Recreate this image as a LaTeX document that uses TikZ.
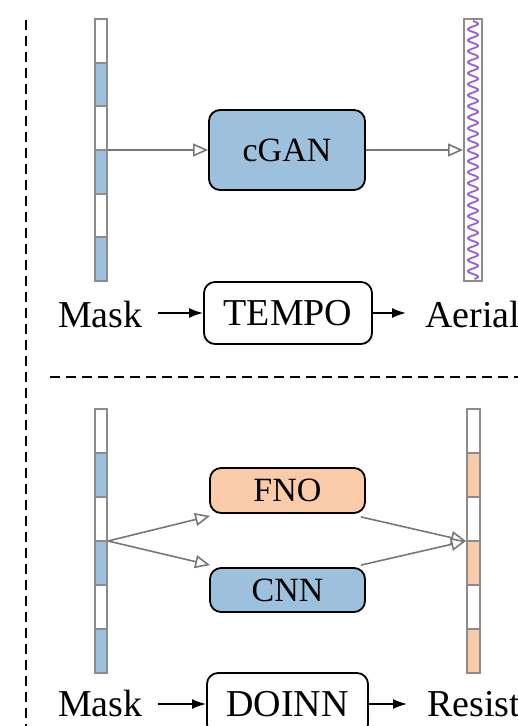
\documentclass[tikz,border=0pt]{standalone}
\usepackage{fontspec}
\setmainfont{Liberation Serif}
\newfontfamily\tnr{Liberation Serif}
\usetikzlibrary{arrows.meta}
\definecolor{mblue}{HTML}{9DC1DC}
\definecolor{morange}{HTML}{FACBA8}
\definecolor{mpurple}{HTML}{9A5FD6}
\definecolor{bargray}{HTML}{8C8C8C}
\definecolor{arrgray}{HTML}{777777}
\begin{document}
\begin{tikzpicture}[x=1pt,y=-1pt,
  barframe/.style={draw=bargray, line width=2pt, inner sep=0pt, fill=none},
  barline/.style={draw=bargray, line width=2pt},
  model/.style={draw=black, line width=1.8pt, rounded corners=11pt, inner sep=0pt, font=\tnr\fontsize{34}{36}\selectfont},
  bigmodel/.style={model, font=\tnr\fontsize{38}{40}\selectfont},
  lbl/.style={inner sep=0pt, font=\tnr\fontsize{38}{40}\selectfont},
  garrow/.style={draw=arrgray, line width=1.6pt, -{Triangle[open, fill=white, length=15pt, width=13pt]}},
  barrow/.style={draw=black, line width=1.6pt, -{Latex[length=14pt, width=10pt]}},
  sep/.style={draw=black, line width=2pt, dash pattern=on 10pt off 6pt}]
\useasboundingbox (0,0) rectangle (518,726);
\clip (0,0) rectangle (518,726);

% separators
\draw[sep] (26,20) -- (26,730);
\draw[sep] (50,377) -- (520,377);

% ---------- top: mask bar ----------
\foreach \i in {1,3,5} \fill[mblue] (95,{19+\i*43.667}) rectangle (107,{19+(\i+1)*43.667});
\foreach \i in {1,...,5} \draw[barline] (95,{19+\i*43.667}) -- (107,{19+\i*43.667});
\node[barframe, minimum width=12pt, minimum height=262pt] (barA) at (101,150) {};

% aerial bar with wave
\draw[mpurple, line width=1.8pt] plot[domain=0:258, samples=600, smooth] ({473+5*sin(\x/11*360)},{21+\x});
\node[barframe, minimum width=18pt, minimum height=262pt] (barB) at (473,150) {};

\node[model, fill=mblue, minimum width=156pt, minimum height=80pt] (cgan) at (287,150) {cGAN};
\draw[garrow] (barA.east) -- (cgan.west);
\draw[garrow] (cgan.east) -- (barB.west);

% TEMPO line
\node[lbl, anchor=base west] (maskA) at (58,327) {Mask};
\node[bigmodel, minimum width=168pt, minimum height=62pt] (tempo) at (288,313) {TEMPO};
\node[lbl, anchor=base west] (aerial) at (425,327) {Aerial};
\draw[barrow, shorten <=15pt] (maskA.east |- tempo.west) -- (tempo.west);
\draw[barrow, shorten >=19pt] (tempo.east) -- (aerial.west |- tempo.east);

% ---------- bottom ----------
\foreach \i in {1,3,5} \fill[mblue] (95,{409+\i*44}) rectangle (107,{409+(\i+1)*44});
\foreach \i in {1,...,5} \draw[barline] (95,{409+\i*44}) -- (107,{409+\i*44});
\node[barframe, minimum width=12pt, minimum height=264pt] (barC) at (101,541) {};

\foreach \i in {1,3,5} \fill[morange] (467,{409+\i*44}) rectangle (480,{409+(\i+1)*44});
\foreach \i in {1,...,5} \draw[barline] (467,{409+\i*44}) -- (480,{409+\i*44});
\node[barframe, minimum width=13pt, minimum height=264pt] (barD) at (473.5,541) {};

\node[model, fill=morange, minimum width=155pt, minimum height=45pt] (fno) at (287.5,490.5) {FNO};
\node[model, fill=mblue, minimum width=155pt, minimum height=44pt] (cnn) at (287.5,590) {CNN};

\draw[garrow] (barC.east) -- ([xshift=1pt,yshift=-2pt]fno.south west);
\draw[garrow] (barC.east) -- ([xshift=1pt,yshift=2pt]cnn.north west);
\draw[garrow] ([xshift=-5pt,yshift=-3pt]fno.south east) -- (barD.west);
\draw[garrow] ([xshift=-5pt,yshift=2pt]cnn.north east) -- (barD.west);

% DOINN line
\node[lbl, anchor=base west] (maskB) at (58,716) {Mask};
\node[bigmodel, minimum width=161pt, minimum height=62pt] (doinn) at (287.5,704) {DOINN};
\node[lbl, anchor=base west] (resist) at (427,716) {Resist};
\draw[barrow, shorten <=15pt] (maskB.east |- doinn.west) -- (doinn.west);
\draw[barrow, shorten >=20pt] (doinn.east) -- (resist.west |- doinn.east);
\end{tikzpicture}
\end{document}
